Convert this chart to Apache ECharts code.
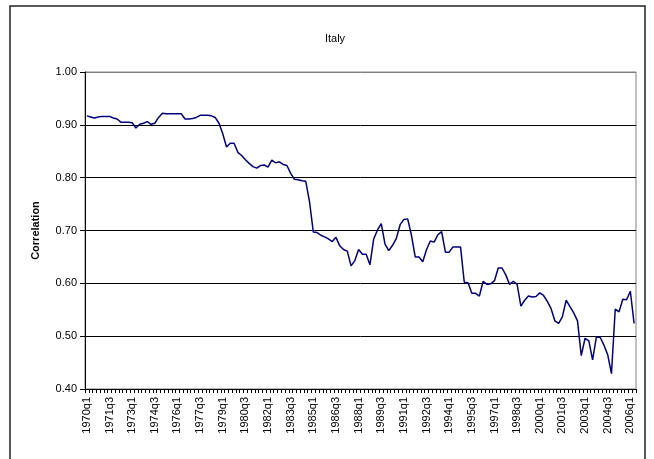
<!DOCTYPE html>
<html>
<head>
<meta charset="utf-8">
<script src="https://cdn.jsdelivr.net/npm/echarts@6/dist/echarts.min.js"></script>
<style>html,body{margin:0;padding:0;background:#fff;}#c{width:654px;height:459px;}</style>
</head>
<body>
<div id="c"></div>
<script>
// Quarterly categories 1970q1 .. 2006q2
var startYear = 1970;
var quarterCount = 146;
var quarters = [];
for (var k = 0; k < quarterCount; k++) {
  quarters.push((startYear + Math.floor(k / 4)) + 'q' + (k % 4 + 1));
}

var correlation = [
  0.917, 0.915, 0.913, 0.915, 0.916, 0.916, 0.916, 0.913, 0.911, 0.905,
  0.905, 0.905, 0.904, 0.894, 0.901, 0.903, 0.906, 0.901, 0.903, 0.914,
  0.922, 0.921, 0.921, 0.921, 0.921, 0.921, 0.911, 0.911, 0.912, 0.914,
  0.918, 0.918, 0.918, 0.917, 0.914, 0.903, 0.883, 0.858, 0.865, 0.865,
  0.848, 0.842, 0.834, 0.827, 0.821, 0.818, 0.823, 0.824, 0.820, 0.833,
  0.828, 0.830, 0.825, 0.823, 0.808, 0.797, 0.796, 0.794, 0.793, 0.754,
  0.697, 0.696, 0.691, 0.688, 0.684, 0.679, 0.687, 0.671, 0.664, 0.661,
  0.633, 0.643, 0.664, 0.655, 0.655, 0.635, 0.684, 0.701, 0.713, 0.674,
  0.662, 0.672, 0.685, 0.711, 0.721, 0.722, 0.691, 0.650, 0.650, 0.641,
  0.664, 0.680, 0.678, 0.692, 0.698, 0.659, 0.659, 0.669, 0.669, 0.669,
  0.602, 0.601, 0.581, 0.581, 0.576, 0.604, 0.598, 0.599, 0.605, 0.629,
  0.629, 0.616, 0.598, 0.604, 0.598, 0.557, 0.568, 0.576, 0.574, 0.575,
  0.582, 0.577, 0.566, 0.552, 0.529, 0.524, 0.537, 0.568, 0.556, 0.544,
  0.529, 0.463, 0.496, 0.491, 0.455, 0.498, 0.498, 0.483, 0.465, 0.429,
  0.551, 0.546, 0.570, 0.569, 0.585, 0.524
];

var chartTitle = 'Italy';
var yName = 'Correlation';

var chart = echarts.init(document.getElementById('c'), null, {renderer: 'canvas'});
chart.setOption({
  animation: false,
  backgroundColor: '#ffffff',
  title: {
    text: chartTitle,
    left: 330, top: 28, textAlign: 'center',
    textStyle: {fontFamily: 'Liberation Sans, Arial, sans-serif', fontSize: 11, fontWeight: 'normal', color: '#000'}
  },
  graphic: [{
    type: 'rect', silent: true, z: 100,
    shape: {x: 10, y: 6, width: 635, height: 470},
    style: {fill: 'none', stroke: '#222', lineWidth: 1.5}
  }],
  grid: {left: 85, right: 18, top: 72, bottom: 70, show: true, borderColor: '#808080', borderWidth: 1},
  xAxis: {
    type: 'category',
    data: quarters,
    boundaryGap: true,
    axisLine: {lineStyle: {color: '#000', width: 1}},
    axisTick: {show: true, interval: 0, length: 4, lineStyle: {color: '#000'}},
    axisLabel: {
      interval: 5, rotate: 90, margin: 8,
      fontFamily: 'Liberation Sans, Arial, sans-serif', fontSize: 11, color: '#000'
    },
    splitLine: {show: false}
  },
  yAxis: {
    type: 'value',
    min: 0.4, max: 1.0, interval: 0.1,
    name: yName,
    nameLocation: 'middle',
    nameGap: 44,
    nameTextStyle: {fontFamily: 'Liberation Sans, Arial, sans-serif', fontSize: 11, fontWeight: 'bold', color: '#000'},
    axisLine: {show: true, lineStyle: {color: '#000', width: 1}},
    axisTick: {show: true, length: 5, lineStyle: {color: '#000'}},
    axisLabel: {
      margin: 8,
      formatter: function (v) { return v.toFixed(2); },
      fontFamily: 'Liberation Sans, Arial, sans-serif', fontSize: 11, color: '#000'
    },
    splitLine: {show: true, lineStyle: {color: ['#000', '#000', '#000', '#000', '#000', '#000', '#808080'], width: 1}}
  },
  series: [{
    type: 'line',
    data: correlation,
    symbol: 'none',
    lineStyle: {color: '#000080', width: 1.5},
    itemStyle: {color: '#000080'}
  }]
});
</script>
</body>
</html>
